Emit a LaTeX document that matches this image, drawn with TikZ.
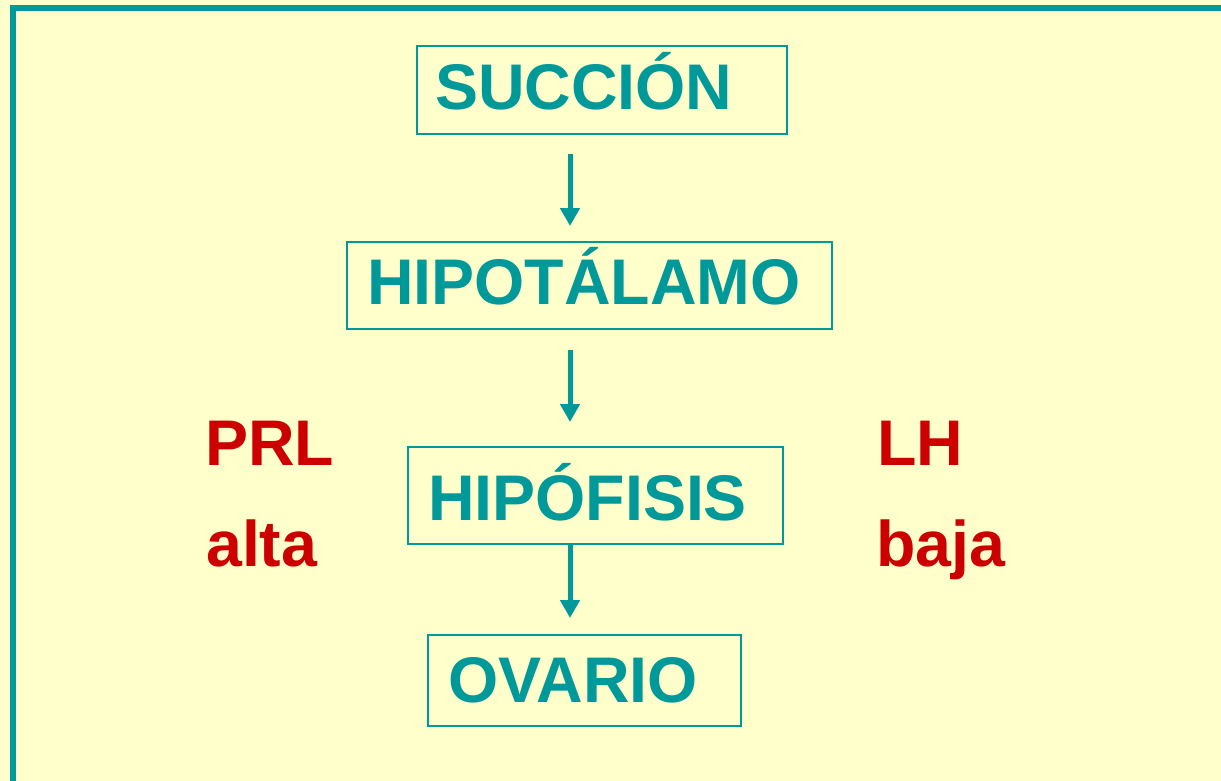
\documentclass[tikz,border=0pt]{standalone}
\usepackage{fontspec}
\setmainfont{Liberation Sans}
\usetikzlibrary{arrows.meta}
\definecolor{teal1}{HTML}{009999}
\definecolor{red1}{HTML}{CC0000}
\definecolor{bg}{HTML}{FFFFCC}
\tikzset{
  organ/.style={draw=teal1, line width=2pt, inner ysep=0pt, align=left, anchor=north west,
    text=teal1, font=\fontsize{64.5}{70}\selectfont\bfseries},
  hormone/.style={anchor=base west, inner sep=0pt, text=red1, font=\fontsize{64.5}{70}\selectfont\bfseries},
  arr/.style={draw=teal1, line width=5pt, -{Triangle[width=19pt,length=18pt]}},
  frame/.style={draw=teal1, line width=6pt}
}
\begin{document}
\begin{tikzpicture}[x=1pt,y=-1pt]
\useasboundingbox (0,0) rectangle (1221,781);
\fill[bg] (0,0) rectangle (1221,781);
\clip (0,0) rectangle (1221,781);
\draw[frame] (13,820) -- (13,8) -- (1240,8);
\coordinate (xa) at (570,0);
\node[organ, inner xsep=18pt, text width=334pt, text height=64pt, text depth=24pt] (suc) at (416,45) {SUCCIÓN};
\node[organ, inner xsep=20pt, text width=445pt, text height=62pt, text depth=25pt] (hip) at (346,241) {HIPOTÁLAMO};
\node[organ, inner xsep=20pt, text width=335pt, text height=73pt, text depth=24pt] (hipo) at (407,446) {HIPÓFISIS};
\node[organ, inner xsep=20pt, text width=273pt, text height=67pt, text depth=24pt] (ova) at (427,634) {OVARIO};
\draw[arr, shorten <=19pt, shorten >=15pt] (suc.south -| xa) -- (hip.north -| xa);
\draw[arr, shorten <=20pt, shorten >=24pt] (hip.south -| xa) -- (hipo.north -| xa);
\draw[arr, shorten >=16pt] (hipo.south -| xa) -- (ova.north -| xa);
\node[hormone] (prl) at (205,465) {PRL};
\node[hormone] (alta) at (206,566) {alta};
\node[hormone] (lh) at (877,465) {LH};
\node[hormone] (baja) at (876,566) {baja};
\end{tikzpicture}
\end{document}
